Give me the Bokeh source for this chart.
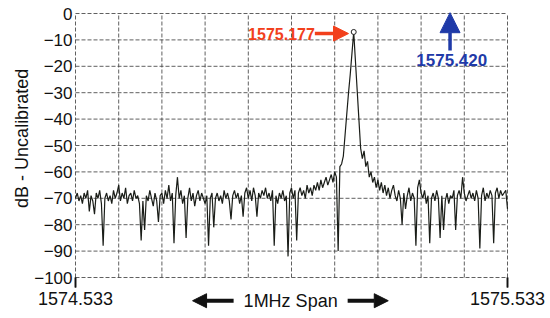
import math
from bokeh.plotting import figure
from bokeh.models import FixedTicker, Label, Arrow, NormalHead, ColumnDataSource, Range1d, PrintfTickFormatter
from bokeh.core.properties import value
from bokeh.embed import file_html
from bokeh.resources import INLINE
import numpy as np

# ---------------- data ----------------
F_START = 1574.533
F_STOP = 1575.533
db_values = [
    -70, -68, -71, -69, -72, -68, -70, -67, -75, -69,
    -71, -76, -68, -70, -67, -72, -88, -70, -68, -71,
    -69, -72, -67, -70, -68, -65, -71, -68, -70, -66,
    -72, -69, -68, -71, -67, -70, -69, -72, -86, -71,
    -82, -69, -71, -67, -70, -73, -68, -71, -79, -69,
    -68, -72, -67, -70, -65, -71, -68, -87, -69, -62,
    -70, -67, -72, -69, -85, -70, -66, -71, -68, -73,
    -69, -67, -71, -68, -70, -72, -69, -88, -70, -68,
    -81, -70, -68, -71, -69, -72, -67, -70, -68, -71,
    -78, -69, -67, -70, -68, -72, -69, -77, -68, -66,
    -70, -67, -71, -66, -69, -77, -68, -70, -67, -69,
    -66, -70, -68, -71, -67, -88, -69, -72, -68, -70,
    -67, -71, -69, -92, -68, -66, -70, -67, -86, -68,
    -66, -69, -67, -70, -65, -68, -66, -69, -65, -67,
    -64, -67, -63, -66, -64, -62, -65, -63, -61, -64,
    -60, -62, -90, -58, -57, -54, -46, -38, -30, -23,
    -15, -7, -18, -29, -40, -51, -55, -52, -58, -56,
    -62, -60, -64, -62, -66, -63, -67, -64, -68, -65,
    -69, -66, -70, -67, -65, -69, -71, -67, -70, -80,
    -68, -74, -69, -66, -71, -68, -70, -88, -66, -63,
    -68, -70, -67, -72, -69, -87, -70, -68, -71, -67,
    -70, -85, -69, -82, -71, -68, -72, -69, -70, -67,
    -82, -69, -67, -70, -62, -68, -71, -69, -67, -70,
    -68, -71, -67, -70, -89, -69, -66, -71, -68, -70,
    -67, -69, -87, -68, -66, -70, -67, -69, -68, -67,
    -74,
]
freqs = np.linspace(F_START, F_STOP, len(db_values))

DB_TOP = 0
DB_BOTTOM = -100
y_ticks = [0, -10, -20, -30, -40, -50, -60, -70, -80, -90, -100]
x_label_ticks = [F_START, F_STOP]
x_grid_ticks = [1574.533, 1574.633, 1574.733, 1574.833, 1574.933, 1575.033,
                1575.133, 1575.233, 1575.333, 1575.433, 1575.533]

peak_freq = 1575.177
peak_db = -7
peak_text = "1575.177"
gps_text = "1575.420"
span_text = "1MHz Span"
y_title = "dB - Uncalibrated"

FONT = "Liberation Sans"
INK = "#111111"

# ---------------- layout (canvas-wide frame so that outer annotations are drawn) ----------------
PX_PER_MHZ = 432.0
PX_PER_DB = 2.64
LEFT_PX, RIGHT_PX, TOP_PX, BOTTOM_PX = 75, 43, 13, 41
x0 = F_START - LEFT_PX / PX_PER_MHZ
x1 = F_STOP + RIGHT_PX / PX_PER_MHZ
y1 = DB_TOP + TOP_PX / PX_PER_DB
y0 = DB_BOTTOM - BOTTOM_PX / PX_PER_DB
TICK_DB = 10 / PX_PER_DB

p = figure(width=550, height=318, output_backend="svg", toolbar_location=None,
           x_range=Range1d(x0, x1), y_range=Range1d(y0, y1),
           min_border_left=0, min_border_right=0, min_border_top=0, min_border_bottom=0)
p.background_fill_color = "white"
p.border_fill_color = "white"
p.outline_line_color = None
p.xgrid.visible = False
p.ygrid.visible = False

# grid lines limited to the plot box
grid_kw = dict(line_color="#444444", line_dash="4 2", line_width=1, line_alpha=0.85)
p.segment(x0=x_grid_ticks, y0=[DB_BOTTOM] * len(x_grid_ticks),
          x1=x_grid_ticks, y1=[DB_TOP] * len(x_grid_ticks), **grid_kw)
p.segment(x0=[F_START] * len(y_ticks), y0=y_ticks,
          x1=[F_STOP] * len(y_ticks), y1=y_ticks, **grid_kw)

# end tick marks hanging below the plot box
p.segment(x0=x_label_ticks, y0=[DB_BOTTOM] * 2, x1=x_label_ticks,
          y1=[DB_BOTTOM - TICK_DB] * 2, line_color=INK, line_width=1.6)

# y axis fixed at the left edge of the plot box
p.yaxis.fixed_location = F_START
p.yaxis.ticker = FixedTicker(ticks=y_ticks)
p.yaxis.axis_line_color = None
p.yaxis.major_tick_line_color = None
p.yaxis.minor_tick_line_color = None
p.yaxis.major_tick_in = 0
p.yaxis.major_tick_out = 0
p.yaxis.major_label_standoff = 3
p.yaxis.major_label_text_font = FONT
p.yaxis.major_label_text_font_size = "17px"
p.yaxis.major_label_text_color = INK

# x axis fixed at the bottom of the plot box
p.xaxis.fixed_location = DB_BOTTOM
p.xaxis.ticker = FixedTicker(ticks=x_label_ticks)
p.xaxis.formatter = PrintfTickFormatter(format="%.3f")
p.xaxis.axis_line_color = None
p.xaxis.major_tick_line_color = INK
p.xaxis.major_tick_line_width = 1.5
p.xaxis.major_tick_in = 0
p.xaxis.major_tick_out = 10
p.xaxis.minor_tick_line_color = None
p.xaxis.major_label_standoff = 4
p.xaxis.major_label_text_font = FONT
p.xaxis.major_label_text_font_size = "18px"
p.xaxis.major_label_text_color = INK

# y axis title
p.text(x=[F_START - 54 / PX_PER_MHZ], y=[-47.3], text=[y_title], angle=math.pi / 2,
       text_align="center", text_baseline="middle", text_font=value(FONT),
       text_font_size="18px", text_color=INK)

# trace
src = ColumnDataSource(dict(f=freqs, db=db_values))
p.line("f", "db", source=src, line_color="#1a1d18", line_width=1.2)
p.scatter([peak_freq], [peak_db], marker="circle", size=5, fill_color="white",
          line_color="#222222", line_width=1)

# red annotation
red = "#f2401c"
p.add_layout(Label(x=1575.087, y=-7.6, text=peak_text, text_align="right", text_baseline="middle",
                   text_font=FONT, text_font_size="16px", text_font_style="bold", text_color=red))
p.add_layout(Arrow(x_start=1575.087, y_start=-7.6, x_end=1575.165, y_end=-7.6,
                   line_color=red, line_width=3.5,
                   end=NormalHead(size=15, fill_color=red, line_color=red)))

# blue annotation
blue = "#1f3aa8"
p.add_layout(Arrow(x_start=1575.400, y_start=-14, x_end=1575.400, y_end=0.3,
                   line_color=blue, line_width=3.5,
                   end=NormalHead(size=20, fill_color=blue, line_color=blue)))
p.add_layout(Label(x=1575.404, y=-17.5, text=gps_text, text_align="center", text_baseline="middle",
                   text_font=FONT, text_font_size="17px", text_font_style="bold", text_color=blue))

# span annotation under the plot box
p.add_layout(Label(x=1575.031, y=-108.8, text=span_text, text_align="center", text_baseline="middle",
                   text_font=FONT, text_font_size="18px", text_color=INK))
p.add_layout(Arrow(x_start=1574.899, y_start=-108.8, x_end=1574.804, y_end=-108.8,
                   line_color=INK, line_width=4,
                   end=NormalHead(size=14, fill_color=INK, line_color=INK)))
p.add_layout(Arrow(x_start=1575.163, y_start=-108.8, x_end=1575.257, y_end=-108.8,
                   line_color=INK, line_width=4,
                   end=NormalHead(size=14, fill_color=INK, line_color=INK)))

open("out.html", "w").write(file_html(p, INLINE))
